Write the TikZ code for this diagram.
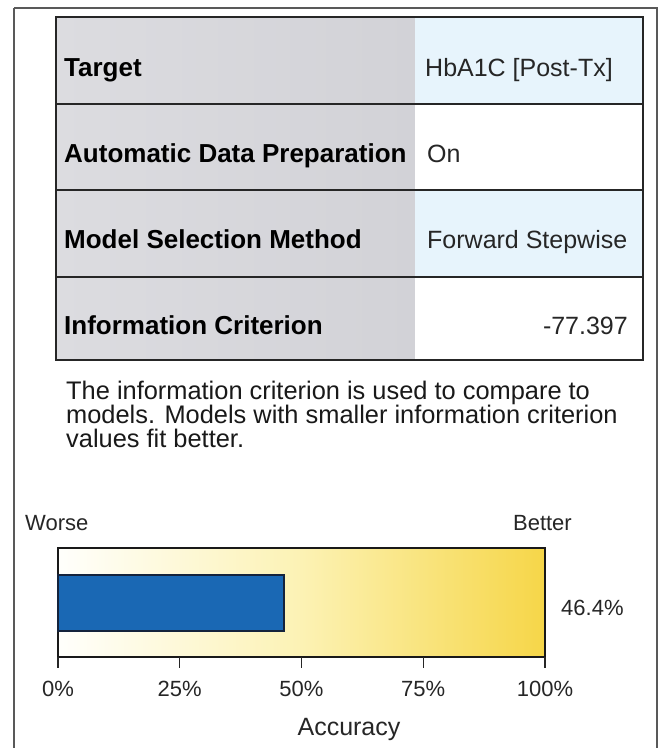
\documentclass[tikz,border=0pt]{standalone}
\usepackage{fontspec}
\setmainfont{Liberation Sans}
\begin{document}
\begin{tikzpicture}[x=1pt,y=-1pt,
  tablerule/.style={draw=black!85,line width=2pt},
  labeltext/.style={anchor=base west,inner sep=0pt,font=\fontsize{26}{28}\selectfont\bfseries,text=black},
  valtext/.style={anchor=base west,inner sep=0pt,font=\fontsize{25}{28}\selectfont,text=black!85},
  notetext/.style={anchor=base west,inner sep=0pt,font=\fontsize{25.4}{24}\selectfont,text=black!90},
  smalltext/.style={inner sep=0pt,font=\fontsize{22}{24}\selectfont,text=black!85},
  ticklabel/.style={smalltext,anchor=base},
]
\definecolor{labelgrayL}{RGB}{220,220,224}
\definecolor{labelgrayR}{RGB}{210,210,215}
\definecolor{valblue}{RGB}{231,244,252}
\definecolor{gaugeA}{RGB}{255,255,252}
\definecolor{gaugeB}{RGB}{252,242,180}
\definecolor{gaugeC}{RGB}{246,214,72}
\definecolor{barblue}{RGB}{26,104,180}
\definecolor{barline}{RGB}{20,35,60}

\useasboundingbox (0,0) rectangle (659,748);
\fill[white] (0,0) rectangle (659,748);

% outer frame
\draw[black!65,line width=1.3pt] (14,8) -- (14,760);
\draw[black!65,line width=1.3pt] (14,8) -- (657,8) -- (657,760);

% label column and value cells
\shade[left color=labelgrayL,right color=labelgrayR] (56,17) rectangle (415,360);
\fill[valblue] (415,17) rectangle (643,104);
\fill[white] (415,104) rectangle (643,190);
\fill[valblue] (415,190) rectangle (643,277);
\fill[white] (415,277) rectangle (643,360);

% table rules
\draw[tablerule] (56,17) rectangle (643,360);
\draw[tablerule] (56,104) -- (643,104);
\draw[tablerule] (56,190) -- (643,190);
\draw[tablerule] (56,277) -- (643,277);

% table text
\node[labeltext] (l1) at (64,76) {Target};
\node[labeltext] (l2) at (64,162) {Automatic Data Preparation};
\node[labeltext] (l3) at (64,248) {Model Selection Method};
\node[labeltext] (l4) at (64,334) {Information Criterion};
\node[valtext] (v1) at (425,76) {HbA1C [Post-Tx]};
\node[valtext] (v2) at (427,162) {On};
\node[valtext] (v3) at (427,248) {Forward Stepwise};
\node[valtext,anchor=base east] (v4) at (628,334) {-77.397};

% note below the table
\node[notetext] (note1) at (66,399) {The information criterion is used to compare to};
\node[notetext] (note2) at (66,423) {models. Models with smaller information criterion};
\node[notetext] (note3) at (66,447) {values fit better.};

% gauge
\node[smalltext,anchor=base west] (worse) at (25,530) {Worse};
\node[smalltext,anchor=base east] (better) at (572,530) {Better};
\shade[left color=gaugeA,right color=gaugeC,middle color=gaugeB] (58,548) rectangle (545,657);
\draw[black!90,line width=1.4pt] (58,548) rectangle (545,657);
\draw[barline,fill=barblue,line width=1.4pt] (58,575) rectangle (284,631);
\node[smalltext,anchor=base west] (pct) at (561,615) {46.4\%};

% axis ticks and labels
\foreach \v/\lab [count=\i] in {0/0\%,25/25\%,50/50\%,75/75\%,100/100\%}{
  \coordinate (t\i) at ({58+4.87*\v},657);
  \draw[black!85,line width=1.4pt] (t\i) -- ++(0,11);
  \node[ticklabel] (tl\i) at ({58+4.87*\v},696) {\lab};
}
\node[inner sep=0pt,anchor=base,font=\fontsize{25}{28}\selectfont,text=black!85] (axis) at (349,735) {Accuracy};
\end{tikzpicture}
\end{document}
